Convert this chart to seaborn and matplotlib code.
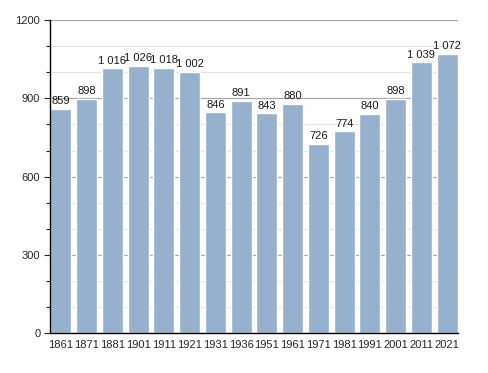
import pandas as pd
import matplotlib
matplotlib.use('Agg')
import matplotlib.pyplot as plt
import seaborn as sns
from matplotlib.ticker import MultipleLocator

# Population by census year
years = ['1861', '1871', '1881', '1901', '1911', '1921', '1931', '1936',
         '1951', '1961', '1971', '1981', '1991', '2001', '2011', '2021']
population = [859, 898, 1016, 1026, 1018, 1002, 846, 891,
              843, 880, 726, 774, 840, 898, 1039, 1072]

data = pd.DataFrame({'year': years, 'population': population})

sns.set_style('white')
plt.rcParams['font.family'] = ['Liberation Sans', 'DejaVu Sans']

fig = plt.figure(figsize=(4.88, 3.73), dpi=100)
ax = fig.add_axes([0.1025, 0.107, 0.836, 0.839])

sns.barplot(data=data, x='year', y='population', color='#96b1cd',
            saturation=1, width=0.81, ax=ax, zorder=2)

# Value labels with space as thousands separator
for i, v in enumerate(population):
    label = f'{v:,}'.replace(',', ' ')
    ax.text(i, v + 10, label, ha='center', va='bottom', fontsize=8, color='#1a1a1a')

ax.set_xlim(-0.42, 15.42)
ax.set_ylim(0, 1200)
ax.yaxis.set_major_locator(MultipleLocator(300))
ax.yaxis.set_minor_locator(MultipleLocator(100))
ax.grid(axis='y', which='major', color='#a8a8a8', linewidth=0.9, zorder=0)
ax.grid(axis='y', which='minor', color='#e4e4e4', linewidth=0.8, zorder=0)
ax.set_axisbelow(True)

ax.set_xlabel('')
ax.set_ylabel('')
for s in ['top', 'right']:
    ax.spines[s].set_visible(False)
ax.spines['left'].set_color('black')
ax.spines['bottom'].set_color('black')
ax.spines['left'].set_linewidth(1)
ax.spines['bottom'].set_linewidth(1)

ax.tick_params(axis='y', which='major', left=True, length=4, width=0.8, labelsize=8, pad=3)
ax.tick_params(axis='y', which='minor', left=True, length=3, width=0.8)
ax.tick_params(axis='x', bottom=False, labelsize=8, pad=1.5)

plt.savefig('out.png', dpi=100)
